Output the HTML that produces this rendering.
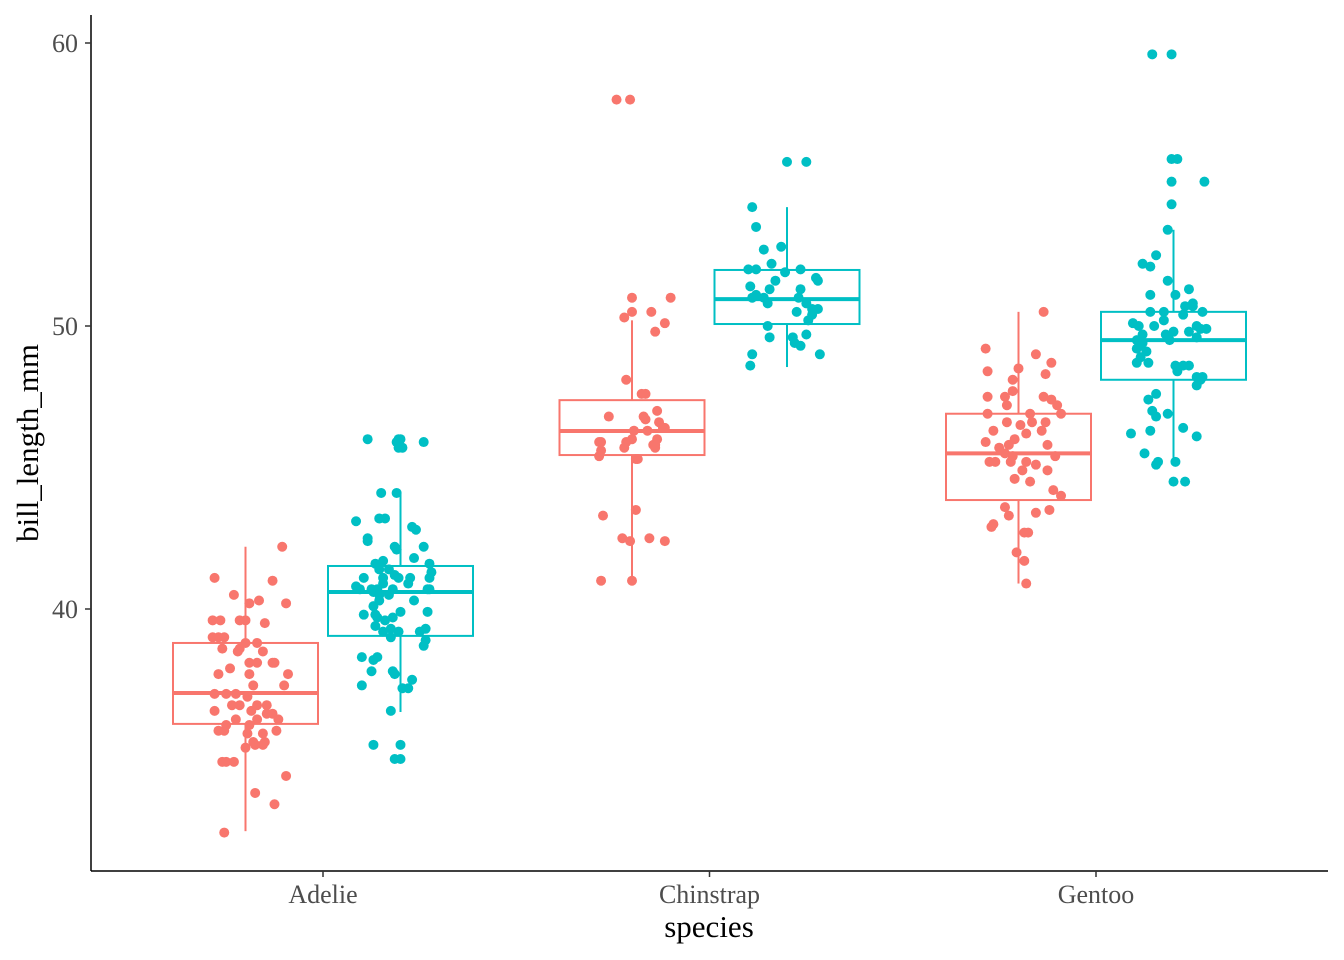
<!DOCTYPE html>
<html><head><meta charset="utf-8"><style>
html,body{margin:0;padding:0;background:#fff;}
svg{display:block;font-family:"Liberation Serif",serif;}
</style></head><body>
<svg id="chart" width="1344" height="960" viewBox="0 0 1344 960">
<g id="plot"></g>
<line x1="91" y1="15" x2="91" y2="871" stroke="#000" stroke-width="1.5"/>
<line x1="91" y1="871" x2="1328" y2="871" stroke="#000" stroke-width="1.5"/>
<g id="axes"></g>
<text x="709" y="937" text-anchor="middle" font-size="31" fill="#000">species</text>
<text transform="translate(38,443) rotate(-90)" text-anchor="middle" font-size="31" fill="#000">bill_length_mm</text>
</svg>
<script>
const categories = ["Adelie","Chinstrap","Gentoo"];
const sexes = ["female","male"];
const colors = ["#F8766D","#00BFC4"];
const yTicks = [40,50,60];
// box stats: [whiskerLow, q1, median, q3, whiskerHigh]
const boxAdelieF = [32.15,35.94,37.03,38.8,42.2];
const boxAdelieM = [36.36,39.05,40.6,41.52,44.1];
const boxChinF = [40.95,45.44,46.29,47.38,50.2];
const boxChinM = [48.55,50.07,50.95,51.98,54.2];
const boxGentooF = [40.9,43.85,45.5,46.9,50.5];
const boxGentooM = [45.1,48.1,49.5,50.5,53.4];
// points: value, jitter (tenths of a category width)
const ptsAdelieF = [[41.1,-0.8],[40.5,-0.3],[41.0,0.7],[40.3,0.35],[40.2,0.1],[40.2,1.05],[42.2,0.95],[39.6,-0.85],[39.6,-0.65],[39.6,-0.15],[39.6,0],[39.5,0.5],[39.0,-0.85],[39.0,-0.7],[39.0,-0.55],[38.8,0],[38.8,0.3],[38.6,-0.6],[38.6,-0.15],[38.5,-0.2],[38.5,0.45],[38.1,0.1],[38.1,0.3],[38.1,0.7],[38.1,0.75],[37.9,-0.4],[37.7,-0.7],[37.7,0.1],[37.7,1.1],[37.3,0.2],[37.3,1.0],[37.0,-0.8],[37.0,-0.5],[37.0,-0.25],[36.9,0.05],[36.6,-0.35],[36.6,-0.15],[36.6,0.3],[36.6,0.55],[36.4,-0.8],[36.4,0.15],[36.3,0.55],[36.3,0.7],[36.1,-0.25],[36.1,0.3],[36.1,0.85],[35.9,-0.5],[35.9,0.1],[35.7,-0.7],[35.7,-0.55],[35.7,0.8],[35.6,0.05],[35.6,0.45],[35.3,0.2],[35.3,0.5],[35.2,0.25],[35.2,0.45],[35.1,0],[34.6,-0.6],[34.6,-0.5],[34.6,-0.3],[34.1,1.05],[33.5,0.25],[33.1,0.75],[32.1,-0.55]];
const ptsAdelieM = [[46.0,-0.85],[46.0,-0.05],[46.0,0],[45.9,-0.1],[45.9,0.6],[45.7,-0.05],[45.7,0.05],[44.1,-0.5],[44.1,-0.1],[43.2,-0.55],[43.2,-0.4],[43.1,-1.15],[42.9,0.3],[42.8,0.4],[42.5,-0.85],[42.4,-0.85],[42.2,-0.15],[42.1,-0.1],[42.2,0.6],[41.8,0.35],[41.7,-0.45],[41.6,-0.65],[41.6,0.75],[41.4,-0.55],[41.4,-0.3],[41.3,0.8],[41.2,-0.15],[41.1,-0.95],[41.1,-0.45],[41.1,0.25],[41.1,0.75],[41.1,-0.05],[40.9,-0.45],[40.9,0.2],[40.8,-1.15],[40.7,-1.05],[40.7,-0.75],[40.7,-0.6],[40.7,-0.2],[40.7,0.7],[40.7,0.75],[40.6,-0.7],[40.5,-0.55],[40.5,-0.3],[40.3,-0.55],[40.3,0.35],[40.1,-0.7],[39.9,0],[39.9,0.7],[39.8,-0.95],[39.8,-0.65],[39.7,-0.6],[39.7,-0.2],[39.6,-0.4],[39.4,-0.65],[39.3,-0.25],[39.3,0.65],[39.2,-0.45],[39.2,-0.05],[39.2,0.5],[39.0,-0.25],[38.9,0.65],[38.7,0.6],[38.3,-1.0],[38.3,-0.6],[38.2,-0.7],[37.8,-0.75],[37.8,-0.2],[37.7,-0.15],[37.5,0.3],[37.3,-1.0],[37.2,0.05],[37.2,0.2],[36.4,-0.25],[35.2,-0.7],[35.2,0],[34.7,-0.15],[34.7,0]];
const ptsChinF = [[58.0,-0.4],[58.0,-0.05],[51.0,0],[51.0,1.0],[50.5,0],[50.5,0.5],[50.3,-0.2],[50.1,0.85],[49.8,0.6],[48.1,-0.15],[47.6,0.25],[47.6,0.35],[47.0,0.65],[46.8,-0.6],[46.8,0.3],[46.7,0.35],[46.6,0.7],[46.4,0.8],[46.4,0.85],[46.3,0.05],[46.3,0.4],[46.0,0],[46.0,0.65],[45.9,-0.85],[45.9,-0.8],[45.9,-0.15],[45.8,0.55],[45.8,0.6],[45.7,-0.2],[45.7,0.6],[45.6,-0.8],[45.4,-0.85],[45.3,0.15],[45.3,0.1],[43.5,0.1],[43.3,-0.75],[42.5,-0.25],[42.5,0.45],[42.4,-0.05],[42.4,0.85],[41.0,-0.8],[41.0,0]];
const ptsChinM = [[55.8,0],[55.8,0.5],[54.2,-0.9],[53.5,-0.8],[52.8,-0.15],[52.7,-0.6],[52.2,-0.4],[52.0,-1.0],[52.0,-0.8],[52.0,0.35],[51.9,-0.05],[51.7,0.75],[51.6,-0.3],[51.6,0.8],[51.4,-0.95],[51.3,-0.45],[51.3,0.35],[51.1,-0.8],[51.0,-0.9],[51.0,-0.6],[51.0,0.3],[50.8,-0.5],[50.8,0.5],[50.6,0.65],[50.6,0.8],[50.5,0.25],[50.4,0.65],[50.2,0.55],[50.0,-0.5],[49.7,0.5],[49.6,-0.45],[49.6,0.15],[49.4,0.2],[49.3,0.35],[49.0,-0.9],[49.0,0.85],[48.6,-0.95]];
const ptsGentooF = [[50.5,0.65],[49.2,-0.85],[49.0,0.45],[48.7,0.85],[48.5,0],[48.4,-0.8],[48.3,0.7],[48.1,-0.15],[47.7,-0.15],[47.5,-0.8],[47.5,-0.35],[47.5,0.65],[47.4,0.85],[47.2,-0.3],[47.2,1.0],[46.9,-0.8],[46.9,0.3],[46.9,1.1],[46.6,-0.3],[46.6,0.35],[46.6,0.7],[46.5,0.05],[46.3,-0.65],[46.3,0.6],[46.2,0.2],[46.0,-0.1],[45.9,-0.85],[45.8,-0.25],[45.8,0.75],[45.7,-0.5],[45.5,-0.35],[45.4,-0.15],[45.4,0.95],[45.2,-0.75],[45.2,0.2],[45.2,-0.6],[45.2,-0.2],[45.1,0.45],[44.9,0.1],[44.9,0.75],[44.6,-0.1],[44.5,0.3],[44.2,0.9],[44.0,1.1],[43.6,-0.35],[43.5,0.8],[43.4,0.45],[43.3,-0.25],[43.0,-0.65],[42.9,-0.7],[42.7,0.15],[42.7,0.25],[42.0,-0.05],[41.7,0.15],[40.9,0.2]];
const ptsGentooM = [[59.6,-0.55],[59.6,-0.05],[55.9,-0.05],[55.9,0.1],[55.1,-0.05],[55.1,0.8],[54.3,-0.05],[53.4,-0.15],[52.5,-0.45],[52.2,-0.8],[52.1,-0.6],[51.6,-0.15],[51.3,0.4],[51.1,-0.6],[51.1,0.05],[50.8,0.5],[50.7,0.3],[50.7,0.5],[50.5,-0.6],[50.5,-0.25],[50.5,0.75],[50.4,0.25],[50.2,-0.25],[50.1,-1.05],[50.0,-0.5],[50.0,0.6],[50.0,-0.9],[49.9,0.7],[49.9,0.85],[49.8,0],[49.8,0.4],[49.7,-0.8],[49.7,-0.2],[49.6,0.6],[49.5,-0.95],[49.5,-0.1],[49.4,-0.8],[49.3,-0.85],[49.2,-0.95],[49.1,-0.7],[48.9,-0.85],[48.7,-0.65],[48.7,-0.95],[48.6,0.05],[48.6,0.25],[48.6,0.4],[48.4,0.1],[48.2,0.6],[48.2,0.75],[48.1,0.7],[47.9,0.6],[47.6,-0.45],[47.4,-0.65],[47.0,-0.55],[46.9,-0.15],[46.8,-0.45],[46.4,0.25],[46.3,-0.6],[46.2,-1.1],[46.1,0.6],[45.5,-0.75],[45.2,0.05],[45.2,-0.4],[45.1,-0.45],[44.5,0],[44.5,0.3]];

const groups = [
  {cat:0,sex:0,box:boxAdelieF,pts:ptsAdelieF},{cat:0,sex:1,box:boxAdelieM,pts:ptsAdelieM},
  {cat:1,sex:0,box:boxChinF,pts:ptsChinF},{cat:1,sex:1,box:boxChinM,pts:ptsChinM},
  {cat:2,sex:0,box:boxGentooF,pts:ptsGentooF},{cat:2,sex:1,box:boxGentooM,pts:ptsGentooM}];

const NS="http://www.w3.org/2000/svg";
const catW=386.5, x0=323, boxW=145, dodge=77.5;
function xCat(i){return x0+i*catW;}
function xGroup(c,s){return xCat(c)+(s===0?-dodge:dodge);}
function yScale(v){return 609-(v-40)*28.3;}
function mk(tag,attrs,parent){const e=document.createElementNS(NS,tag);for(const k in attrs)e.setAttribute(k,attrs[k]);parent.appendChild(e);return e;}

const plot=document.getElementById('plot');
const axes=document.getElementById('axes');
groups.forEach(g=>{
  const cx=xGroup(g.cat,g.sex), col=colors[g.sex], b=g.box;
  const gg=mk('g',{},plot);
  
  
  const w1=mk('line',{x1:cx,x2:cx,y1:yScale(b[0]),y2:yScale(b[1]),stroke:col,'stroke-width':2},gg);
  
  
  const w2=mk('line',{x1:cx,x2:cx,y1:yScale(b[3]),y2:yScale(b[4]),stroke:col,'stroke-width':2},gg);
  
  
  const r=mk('rect',{x:cx-boxW/2,y:yScale(b[3]),width:boxW,height:yScale(b[1])-yScale(b[3]),fill:'#fff',stroke:col,'stroke-width':2},gg);
  
  
  const m=mk('line',{x1:cx-boxW/2,x2:cx+boxW/2,y1:yScale(b[2]),y2:yScale(b[2]),stroke:col,'stroke-width':4},gg);
  
  
});
groups.forEach(g=>{
  const cx=xGroup(g.cat,g.sex), col=colors[g.sex];
  g.pts.forEach(p=>{
    const c=mk('circle',{cx:cx+p[1]*catW/10,cy:yScale(p[0]),r:5,fill:col},plot);
    
    
  });
});
yTicks.forEach(t=>{
  const y=yScale(t);
  const l=mk('line',{x1:85,x2:91,y1:y,y2:y,stroke:'#333','stroke-width':1.5},axes);
  
  
  const tx=mk('text',{x:78,y:y+9,'text-anchor':'end','font-size':26,fill:'#4d4d4d'},axes);
  tx.textContent=t;
  
  
});
categories.forEach((c,i)=>{
  const x=xCat(i);
  const l=mk('line',{x1:x,x2:x,y1:871,y2:877,stroke:'#333','stroke-width':1.5},axes);
  
  
  const tx=mk('text',{x:x,y:903,'text-anchor':'middle','font-size':26,fill:'#4d4d4d'},axes);
  tx.textContent=c;
  
  
});
</script>
</body></html>
